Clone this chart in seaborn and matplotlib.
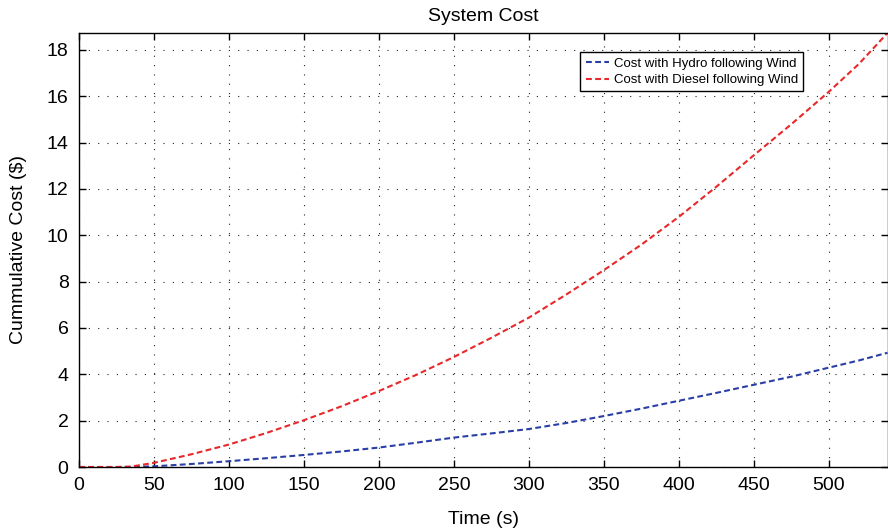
import matplotlib
matplotlib.use("Agg")
import matplotlib.pyplot as plt
import seaborn as sns
import pandas as pd

# Simulation time samples (s)
time_s = [0, 25, 35, 50, 75, 100, 125, 150, 175, 200, 225, 250, 275, 300,
          325, 350, 375, 400, 425, 450, 475, 500, 520, 539]

# Cumulative cost ($) for each dispatch strategy
cost_hydro = [0.0, 0.0, 0.0, 0.03, 0.13, 0.25, 0.38, 0.52, 0.67, 0.84, 1.05,
              1.27, 1.45, 1.64, 1.90, 2.20, 2.52, 2.86, 3.20, 3.55, 3.90,
              4.29, 4.60, 4.93]
cost_diesel = [0.0, 0.0, 0.02, 0.18, 0.55, 0.97, 1.47, 2.02, 2.62, 3.28, 3.98,
               4.75, 5.58, 6.45, 7.45, 8.50, 9.60, 10.80, 12.10, 13.46, 14.80,
               16.20, 17.40, 18.73]

label_hydro = "Cost with Hydro following Wind"
label_diesel = "Cost with Diesel following Wind"

sns.set_style("ticks")
plt.rcParams["font.family"] = ["Liberation Sans", "DejaVu Sans"]
plt.rcParams["text.color"] = "black"
plt.rcParams["axes.labelcolor"] = "black"
plt.rcParams["xtick.color"] = "black"
plt.rcParams["ytick.color"] = "black"

df = pd.DataFrame({"t": time_s, "hydro": cost_hydro, "diesel": cost_diesel})

fig = plt.figure(figsize=(8.88, 5.32), dpi=100)
ax = fig.add_axes([79 / 888, 65 / 532, 808.5 / 888, 434 / 532])

dash = (0, (2.8, 1.6))
sns.lineplot(data=df, x="t", y="hydro", ax=ax, color="#2a3fa6",
             linestyle=dash, linewidth=1.5, label=label_hydro)
sns.lineplot(data=df, x="t", y="diesel", ax=ax, color="#e8282a",
             linestyle=dash, linewidth=1.5, label=label_diesel)

ax.set_xlim(0, 539)
ax.set_ylim(0, 18.73)
ax.set_xticks(range(0, 501, 50))
ax.set_yticks(range(0, 19, 2))

ax.grid(True, color="#222222", linestyle=(0, (1, 7.4)), linewidth=0.8)
ax.tick_params(direction="in", length=5, width=1, top=True, right=True,
               labelsize=14, colors="black", pad=7.5)
for s in ax.spines.values():
    s.set_visible(True)
    s.set_linewidth(1.0)
    s.set_color("black")

ax.set_title("System Cost", fontsize=14, pad=9)
ax.set_xlabel("Time (s)", fontsize=14, labelpad=12)
ax.set_ylabel("Cummulative Cost ($)", fontsize=14, labelpad=14)

leg = ax.legend(loc="upper right", bbox_to_anchor=(0.896, 0.956), fontsize=9.5,
                frameon=True, fancybox=False, handlelength=1.75,
                borderpad=0.4, labelspacing=0.33, handletextpad=0.4,
                borderaxespad=0)
leg.get_frame().set_edgecolor("black")
leg.get_frame().set_linewidth(1.0)
leg.get_frame().set_alpha(1)

fig.savefig("out.png", dpi=100)
